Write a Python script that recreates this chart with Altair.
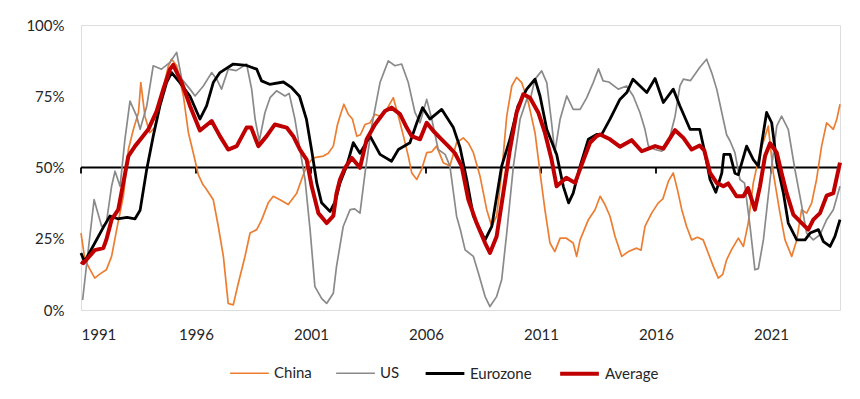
import altair as alt
import pandas as pd

# ---------------- data ----------------
china_year = [1991.0, 1991.17, 1991.4, 1991.6, 1991.8, 1992.1, 1992.33, 1992.55, 1992.84, 1993.06,
              1993.28, 1993.5, 1993.6, 1993.78, 1993.99, 1994.2, 1994.5, 1994.8, 1994.94, 1995.16,
              1995.45, 1995.67, 1995.88, 1996.1, 1996.3, 1996.46, 1996.75, 1996.97, 1997.19, 1997.4,
              1997.62, 1997.84, 1998.13, 1998.35, 1998.64, 1998.86, 1999.14, 1999.36, 1999.65, 2000.01,
              2000.38, 2000.59, 2000.81, 2001.1, 2001.54, 2001.75, 2001.97, 2002.15, 2002.26, 2002.43,
              2002.62, 2002.8, 2002.99, 2003.15, 2003.35, 2003.57, 2003.78, 2004.0, 2004.29, 2004.58,
              2004.8, 2005.02, 2005.23, 2005.38, 2005.6, 2005.81, 2006.03, 2006.25, 2006.46, 2006.75,
              2007.04, 2007.33, 2007.62, 2007.85, 2008.06, 2008.35, 2008.64, 2008.86, 2009.07, 2009.29,
              2009.51, 2009.73, 2009.94, 2010.16, 2010.45, 2010.74, 2010.96, 2011.17, 2011.39, 2011.6,
              2011.83, 2012.1, 2012.4, 2012.55, 2012.7, 2013.06, 2013.35, 2013.57, 2013.78, 2014.0,
              2014.22, 2014.51, 2014.8, 2015.16, 2015.35, 2015.52, 2015.81, 2016.1, 2016.3, 2016.54,
              2016.75, 2016.93, 2017.12, 2017.33, 2017.55, 2017.8, 2018.05, 2018.27, 2018.49, 2018.71,
              2018.9, 2019.07, 2019.28, 2019.58, 2019.8, 2020.01, 2020.23, 2020.52, 2020.88, 2021.1,
              2021.39, 2021.61, 2021.9, 2022.12, 2022.33, 2022.55, 2022.77, 2022.98, 2023.2, 2023.42,
              2023.71, 2023.86, 2024.0]
china_val = [27, 17.6, 14.1, 11.2, 12.5, 14.1, 18.8, 28.2, 39.9, 56.3,
             63.4, 69.3, 79.8, 68, 62.2, 64, 75.1, 85.7, 88, 85.7,
             75.1, 62.2, 55.2, 47.5, 44, 42.3, 38.7, 29.3, 18.8, 2.3,
             1.8, 9.4, 18.8, 27, 28.2, 31.7, 37.6, 39.9, 38.7, 37,
             41, 45.8, 50.5, 53.4, 54, 55, 57.5, 65, 68, 72.2,
             68.7, 67, 61, 61.5, 65.1, 65.7, 68.7, 68, 70.4, 74.5,
             68, 61, 54, 48.1, 45.8, 49.3, 55.2, 55.5, 57.5, 51.7,
             50.5, 58.7, 60.4, 58.5, 55.2, 46.9, 35.2, 29.3, 32.9, 48.1,
             68, 78.6, 81.6, 79.8, 72.8, 62.2, 48.1, 35.2, 23.5, 20.5,
             25.2, 25.2, 23.5, 18.8, 24.6, 31.7, 35.2, 39.9, 37, 32.9,
             25.8, 18.8, 20.5, 21.7, 21, 29.3, 34, 37.6, 39, 45.2,
             48.1, 42.3, 35.2, 29.3, 24.6, 25.5, 24.6, 20, 15.3, 11.2,
             12.5, 17.6, 21.1, 25.2, 22.3, 30.5, 44.6, 55.2, 64.5, 48.1,
             34, 24.6, 18.8, 24.6, 35.2, 34, 37.6, 45.8, 57.5, 65.7,
             63.4, 66.9, 72.2]

us_year = [1991.07, 1991.3, 1991.57, 1991.9, 1992.1, 1992.33, 1992.48, 1992.7, 1992.91, 1993.13,
           1993.42, 1993.57, 1993.86, 1994.14, 1994.5, 1994.87, 1995.16, 1995.38, 1995.74, 1995.96,
           1996.32, 1996.68, 1996.9, 1997.11, 1997.4, 1997.75, 1998.2, 1998.42, 1998.57, 1998.75,
           1999.0, 1999.22, 1999.5, 1999.87, 2000.05, 2000.3, 2000.52, 2000.74, 2000.96, 2001.17,
           2001.46, 2001.68, 2001.97, 2002.11, 2002.4, 2002.7, 2002.9, 2003.13, 2003.35, 2003.64,
           2004.0, 2004.36, 2004.65, 2004.94, 2005.23, 2005.52, 2005.74, 2006.03, 2006.25, 2006.53,
           2006.83, 2007.04, 2007.33, 2007.5, 2007.7, 2008.06, 2008.28, 2008.57, 2008.78, 2009.07,
           2009.29, 2009.51, 2009.8, 2010.09, 2010.38, 2010.55, 2010.74, 2011.03, 2011.25, 2011.46,
           2011.6, 2011.83, 2012.12, 2012.4, 2012.7, 2012.99, 2013.27, 2013.5, 2013.7, 2013.95,
           2014.36, 2014.72, 2015.01, 2015.3, 2015.52, 2015.67, 2015.96, 2016.25, 2016.54, 2016.83,
           2017.04, 2017.19, 2017.5, 2017.9, 2018.2, 2018.42, 2018.64, 2018.86, 2019.07, 2019.22,
           2019.43, 2019.65, 2019.85, 2020.09, 2020.3, 2020.45, 2020.67, 2020.96, 2021.25, 2021.46,
           2021.75, 2022.04, 2022.26, 2022.55, 2022.84, 2023.13, 2023.42, 2023.71, 2024.0]
us_val = [3.5, 20, 38.7, 29.3, 30.5, 43.4, 48.7, 43.4, 59.9, 73.3,
          68, 63.4, 71.6, 85.7, 84.5, 86.9, 90.4, 81, 77.5, 75.1,
          78.6, 83.3, 81, 77.5, 84.5, 84, 86.3, 77.5, 67, 59.3,
          69.3, 74.5, 76.9, 75.1, 76, 67, 56.3, 45.8, 28.2, 8.2,
          4.1, 2.3, 5.9, 15.3, 29.3, 35.2, 35.5, 34, 48.1, 64.5,
          79.8, 87.4, 85.7, 86.3, 79.8, 69.3, 65.7, 73.9, 67, 56.3,
          54.6, 50.5, 32.9, 28, 21.1, 18.8, 12.9, 4.7, 1.2, 4.7,
          10.6, 27, 50.5, 66.9, 73.9, 74.5, 81, 83.9, 79.8, 65.7,
          55.2, 66.9, 75.1, 70.4, 70.4, 74.5, 79.8, 84.6, 80.4, 80,
          77.5, 78.6, 75.1, 69.3, 63.4, 57.5, 56.3, 55.7, 58.7, 68,
          78.6, 81, 80.5, 85.1, 88, 83.3, 77.5, 69.3, 61.5, 59.3,
          55.2, 45.8, 44.5, 29.3, 14.1, 14.5, 24.6, 45.8, 64.5, 68,
          63.4, 49.3, 39.9, 27, 24.6, 26.4, 31.7, 35.2, 43.4]

euro_year = [1991.0, 1991.15, 1991.5, 1991.97, 1992.26, 1992.6, 1993.0, 1993.35, 1993.57, 1993.85,
             1994.14, 1994.43, 1994.72, 1994.94, 1995.3, 1995.74, 1996.17, 1996.46, 1996.75, 1997.04,
             1997.62, 1998.2, 1998.64, 1998.85, 1999.2, 1999.8, 2000.16, 2000.5, 2000.8, 2001.03,
             2001.25, 2001.46, 2001.83, 2002.05, 2002.26, 2002.55, 2002.84, 2003.13, 2003.57, 2004.0,
             2004.5, 2004.8, 2005.3, 2005.6, 2005.85, 2006.17, 2006.68, 2007.19, 2007.48, 2007.77,
             2008.06, 2008.57, 2008.86, 2009.29, 2009.65, 2010.0, 2010.38, 2010.74, 2010.96, 2011.25,
             2011.68, 2011.97, 2012.2, 2012.4, 2012.7, 2013.06, 2013.42, 2013.64, 2014.0, 2014.43,
             2014.73, 2015.0, 2015.6, 2015.96, 2016.32, 2016.75, 2017.04, 2017.48, 2017.9, 2018.13,
             2018.35, 2018.6, 2018.86, 2018.95, 2019.22, 2019.43, 2019.58, 2019.94, 2020.23, 2020.45,
             2020.6, 2020.81, 2021.03, 2021.25, 2021.54, 2021.75, 2022.12, 2022.48, 2022.7, 2023.06,
             2023.28, 2023.57, 2023.78, 2024.0]
euro_val = [20, 17, 22, 29, 33, 32, 32.5, 32, 35, 49,
            61, 71.6, 79.8, 83.3, 79.8, 75, 67, 71.6, 79.8, 83.3,
            86.3, 85.8, 84.5, 80.4, 79.2, 80, 78, 75, 67, 56,
            44.6, 37.6, 34.6, 38, 44.6, 50.5, 58.7, 55, 61, 54.6,
            52.2, 56.3, 58.7, 65.7, 71, 67, 70.4, 64, 57, 45.8,
            32.9, 24.6, 29.3, 50.5, 59.9, 71.6, 77.5, 81, 75, 63.4,
            54.6, 43.4, 37.6, 41, 50.5, 59.9, 61.6, 61.6, 67, 73.9,
            76.3, 81, 76.3, 81.2, 72.8, 77.5, 71.6, 63.4, 63.4, 55,
            45.8, 41.3, 48, 54.6, 54.6, 48, 47.5, 57.5, 52.8, 50.5,
            58.7, 69.3, 65.7, 51.7, 41, 30.5, 24.6, 24.6, 27, 28.2,
            24, 22.3, 25.8, 31.7]

avg_year = [1991.0, 1991.1, 1991.6, 1991.97, 1992.1, 1992.33, 1992.62, 1992.84, 1993.06, 1993.35,
            1993.64, 1993.93, 1994.29, 1994.58, 1994.87, 1995.01, 1995.38, 1995.74, 1996.17, 1996.68,
            1997.04, 1997.4, 1997.77, 1998.2, 1998.4, 1998.71, 1999.07, 1999.43, 1999.94, 2000.23,
            2000.52, 2000.81, 2001.03, 2001.32, 2001.68, 2001.97, 2002.11, 2002.26, 2002.48, 2002.77,
            2003.13, 2003.42, 2003.78, 2004.22, 2004.5, 2004.87, 2005.16, 2005.38, 2005.74, 2006.03,
            2006.32, 2006.61, 2006.97, 2007.26, 2007.55, 2007.84, 2008.2, 2008.57, 2008.78, 2009.07,
            2009.36, 2009.65, 2009.94, 2010.23, 2010.52, 2010.88, 2011.17, 2011.46, 2011.68, 2012.1,
            2012.48, 2012.77, 2013.13, 2013.42, 2013.57, 2014.0, 2014.43, 2014.94, 2015.38, 2015.96,
            2016.32, 2016.83, 2017.19, 2017.55, 2017.9, 2018.1, 2018.35, 2018.64, 2018.93, 2019.14,
            2019.5, 2019.8, 2020.0, 2020.3, 2020.52, 2020.74, 2020.96, 2021.25, 2021.46, 2021.68,
            2021.97, 2022.26, 2022.62, 2022.84, 2023.13, 2023.42, 2023.71, 2024.0]
avg_val = [17, 16.4, 21, 21.7, 24.6, 31.7, 35.2, 44.6, 54, 57.5,
           60.4, 63.4, 69.8, 77.5, 84.5, 86, 79.8, 71.6, 63, 66.3,
           61, 56.3, 57.5, 64, 64, 57.5, 61, 65.1, 64, 61,
           56.3, 52.8, 43.4, 34, 30.5, 33, 41, 45.8, 49.9, 53.4,
           49.9, 59.9, 65.1, 69.8, 71, 68.7, 64, 61, 59.9, 65.7,
           62.8, 60.4, 57.5, 55, 50.5, 38.7, 30.5, 23.5, 20, 25.8,
           41, 56.3, 69.3, 75.7, 74.5, 69.3, 62.2, 52.8, 43.4, 46.4,
           44.6, 51, 58.7, 61, 61.6, 59.9, 57.3, 59.6, 55.7, 57.5,
           56.6, 63.1, 60.4, 56.3, 57.7, 56, 48.1, 44.6, 43.4, 44.4,
           39.9, 39.9, 42.8, 35.2, 43.4, 54, 58.5, 55.2, 48.1, 41,
           33.5, 31.1, 28.2, 31.7, 34, 40.1, 41, 51.7]

series_names = ["China", "US", "Eurozone", "Average"]
series_colors = ["#ED7D31", "#8A8A8A", "#000000", "#C00000"]
series_widths = [1.7, 1.7, 2.8, 4.0]
year_ticks = [1991, 1996, 2001, 2006, 2011, 2016, 2021]
pct_ticks = [0, 25, 50, 75, 100]
mid_line = [50]

FONT = "Lato"
TXT = "#262626"

frames = {
    "China": pd.DataFrame({"year": china_year, "value": china_val, "series": "China"}),
    "US": pd.DataFrame({"year": us_year, "value": us_val, "series": "US"}),
    "Eurozone": pd.DataFrame({"year": euro_year, "value": euro_val, "series": "Eurozone"}),
    "Average": pd.DataFrame({"year": avg_year, "value": avg_val, "series": "Average"}),
}

x_enc = alt.X(
    "year:Q",
    scale=alt.Scale(domain=[1991, 2024], nice=False, zero=False),
    axis=alt.Axis(values=year_ticks, format="d", title=None, grid=False, domain=False,
                  ticks=False, tickSize=0, labelPadding=17, labelFontSize=15, labelFont=FONT,
                  labelColor=TXT),
)
y_enc = alt.Y(
    "value:Q",
    scale=alt.Scale(domain=[0, 100], nice=False, zero=True),
    axis=alt.Axis(values=pct_ticks, labelExpr="datum.value + '%'", title=None, grid=False,
                  domain=False, ticks=False, tickSize=0, labelPadding=17, labelFontSize=15,
                  labelFont=FONT, labelColor=TXT),
)

color_scale = alt.Scale(domain=series_names, range=series_colors)
width_scale = alt.Scale(type="ordinal", domain=series_names, range=series_widths)
legend_cfg = dict(title=None, orient="none", legendX=148, legendY=327, direction="horizontal",
                  symbolType="stroke", symbolSize=1500, columnPadding=20, labelOffset=4,
                  labelFontSize=15, labelFont=FONT, labelColor=TXT, padding=0)

# 50% axis line and its tick marks
mid_df = pd.DataFrame({"value": mid_line})
axis_line = alt.Chart(mid_df).mark_rule(color="black", strokeWidth=1.8).encode(y=y_enc)
tick_df = pd.DataFrame({"year": year_ticks, "value": [50] * len(year_ticks),
                        "value2": [47.9] * len(year_ticks)})
axis_ticks = alt.Chart(tick_df).mark_rule(color="black", strokeWidth=1.8).encode(
    x=x_enc, y=y_enc, y2="value2:Q")

layers = [axis_line, axis_ticks]
for name in series_names:
    layers.append(
        alt.Chart(frames[name]).mark_line(strokeJoin="round", strokeCap="butt").encode(
            x=x_enc,
            y=y_enc,
            color=alt.Color("series:N", scale=color_scale, legend=alt.Legend(**legend_cfg)),
            strokeWidth=alt.StrokeWidth("series:N", scale=width_scale,
                                        legend=alt.Legend(**legend_cfg)),
        )
    )

chart = alt.layer(*layers).properties(
    width=759,
    height=285,
    autosize=alt.AutoSizeParams(type="none"),
    padding={"left": 73, "top": 17, "right": 12, "bottom": 80},
).configure_view(stroke=None).configure(background="white")

chart.save("out.html", embed_options={"renderer": "svg", "actions": False})
